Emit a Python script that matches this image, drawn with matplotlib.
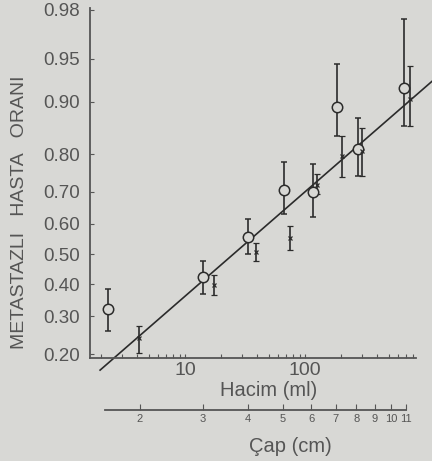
import numpy as np
import matplotlib.pyplot as plt
from statistics import NormalDist

plt.rcParams["font.family"] = ["Liberation Sans", "DejaVu Sans"]

# volume (ml) and proportion with metastasis
circ_vol = [2.3, 14.1, 33.5, 67, 116, 185, 277, 668]
circ_p = [0.322, 0.423, 0.557, 0.705, 0.699, 0.892, 0.812, 0.919]
circ_lo = [0.258, 0.368, 0.500, 0.632, 0.622, 0.840, 0.744, 0.859]
circ_hi = [0.384, 0.476, 0.616, 0.780, 0.776, 0.945, 0.874, 0.976]

cross_vol = [4.1, 17.4, 39, 75, 126, 203, 299, 750]
cross_p = [0.240, 0.397, 0.507, 0.553, 0.720, 0.795, 0.807, 0.904]
cross_lo = [0.202, 0.365, 0.476, 0.513, 0.693, 0.742, 0.744, 0.859]
cross_hi = [0.272, 0.430, 0.537, 0.593, 0.750, 0.840, 0.855, 0.943]

fit_vol = [1.96, 1143]
fit_p = [0.1645, 0.927]

y_ticks = [0.20, 0.30, 0.40, 0.50, 0.60, 0.70, 0.80, 0.90, 0.95, 0.98]
diam_ticks = [2, 3, 4, 5, 6, 7, 8, 9, 10, 11]

BG = "#d8d8d5"
INK = "#2b2b2b"
GREY = "#555555"

_nd = NormalDist()


def probit(p):
    p = np.clip(np.asarray(p, float), 1e-9, 1 - 1e-9)
    return np.vectorize(_nd.inv_cdf, otypes=[float])(p)


def inv_probit(z):
    return np.vectorize(_nd.cdf, otypes=[float])(np.asarray(z, float))


def sphere_vol(d):
    return np.pi / 6 * np.asarray(d, float) ** 3


fig = plt.figure(figsize=(4.32, 4.61), dpi=100, facecolor=BG)
ax = fig.add_axes([90 / 432, 103 / 461, 342 / 432, 350 / 461])
ax.set_facecolor(BG)
ax.set_xscale("log")
ax.set_yscale("function", functions=(probit, inv_probit))
ax.set_xlim(1.615, 1143)
ax.set_ylim(0.191, 0.9808)

ax.plot(fit_vol, fit_p, color=INK, lw=1.2, clip_on=False, zorder=2)

def yerr(p, lo, hi):
    p = np.asarray(p)
    return [p - np.asarray(lo), np.asarray(hi) - p]

ax.errorbar(circ_vol, circ_p, yerr=yerr(circ_p, circ_lo, circ_hi), fmt="o",
            ms=7.5, mfc=BG, mec=INK, mew=1.1, ecolor=INK, elinewidth=1.2,
            capsize=2.5, capthick=1.1, zorder=3)
ax.errorbar(cross_vol, cross_p, yerr=yerr(cross_p, cross_lo, cross_hi), fmt="x",
            ms=3.5, mec=INK, mew=0.9, ecolor=INK, elinewidth=1.2,
            capsize=2.5, capthick=1.1, zorder=3)

for side in ("top", "right"):
    ax.spines[side].set_visible(False)
ax.spines["left"].set_color(GREY)
ax.spines["left"].set_linewidth(1.3)
ax.spines["bottom"].set_color(GREY)
ax.spines["bottom"].set_linewidth(1.3)
ax.spines["bottom"].set_bounds(1.615, 840)

ax.set_yticks(y_ticks)
ax.set_yticklabels([f"{v:.2f}" for v in y_ticks])
ax.yaxis.set_minor_locator(plt.NullLocator())
ax.tick_params(axis="y", direction="in", length=3, width=0.8, color=GREY,
               labelsize=13.5, labelcolor=GREY, pad=7)

ax.set_xticks([10, 100])
ax.set_xticklabels(["10", "100"])
ax.set_xticks([v * m for m in (1, 10, 100) for v in range(2, 10) if v * m <= 800],
              minor=True)
ax.xaxis.set_minor_formatter(plt.NullFormatter())
ax.tick_params(axis="x", which="both", direction="in", length=3, width=0.8,
               color=GREY, labelsize=14, labelcolor=GREY, pad=3)

# diameter scale (cm), sphere volume = pi/6 * d^3
ax2 = fig.add_axes([90 / 432, 51 / 461, 342 / 432, 0.0001])
ax2.set_facecolor("none")
ax2.set_xscale("log")
ax2.set_xlim(ax.get_xlim())
ax2.set_yticks([])
for side in ("top", "right", "left"):
    ax2.spines[side].set_visible(False)
ax2.spines["bottom"].set_color(GREY)
ax2.spines["bottom"].set_linewidth(1.3)
ax2.spines["bottom"].set_bounds(2.15, sphere_vol(11))
ax2.set_xticks(sphere_vol(diam_ticks))
ax2.set_xticklabels([str(d) for d in diam_ticks])
ax2.xaxis.set_minor_locator(plt.NullLocator())
ax2.tick_params(axis="x", direction="in", length=4, width=0.8, color=GREY,
                labelsize=8, labelcolor=GREY, pad=3)

fig.text(20 / 432, 1 - 212 / 461, "METASTAZLI   HASTA   ORANI", rotation=90,
         ha="center", va="center", fontsize=14, color=GREY)
fig.text(269 / 432, 1 - 390 / 461, "Hacim (ml)", ha="center", va="center",
         fontsize=14.5, color=GREY)
fig.text(290 / 432, 1 - 446 / 461, "Çap (cm)", ha="center", va="center",
         fontsize=14.5, color=GREY)

fig.savefig("out.png", dpi=100, facecolor=BG)
